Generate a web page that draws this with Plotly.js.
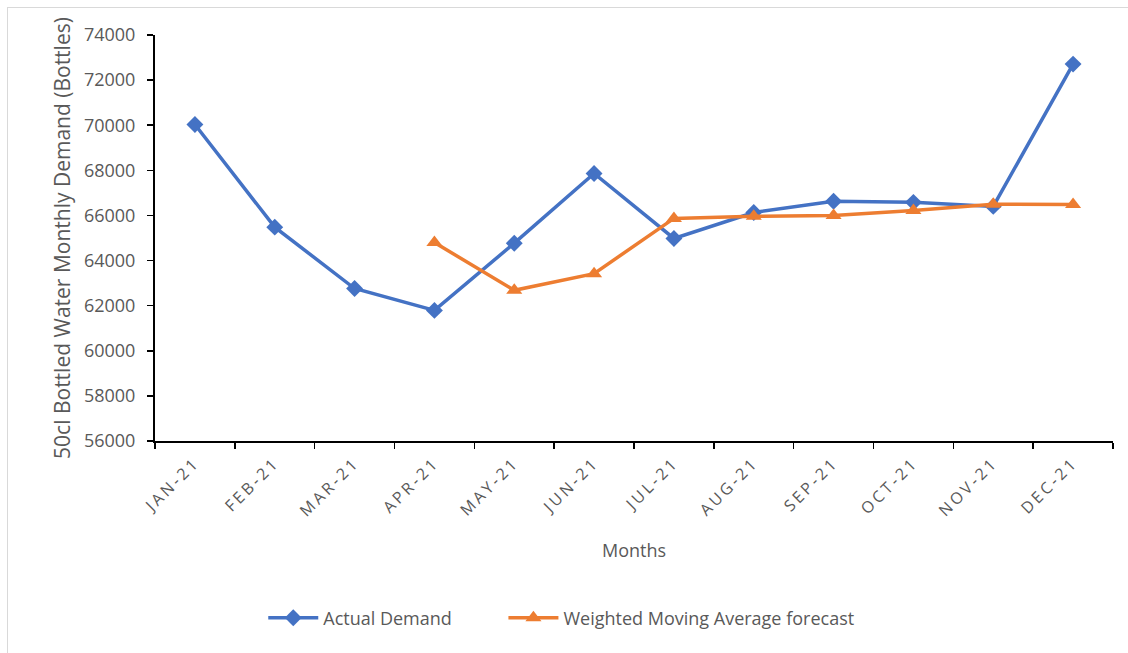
<!DOCTYPE html>
<html>
<head>
<meta charset="utf-8">
<script src="https://cdn.plot.ly/plotly-3.0.1.min.js"></script>
<style>
  body { margin: 0; background: #fff; }
  #frame { position: absolute; left: 7px; top: 7px; width: 1200px; height: 700px; border: 1px solid #d9d9d9; pointer-events: none; z-index: 5; }
  #chart { position: absolute; left: 0; top: 0; width: 1128px; height: 653px; }
  .xtick text { letter-spacing: 3px; }
</style>
</head>
<body>
<div id="chart"></div>
<div id="frame"></div>
<script>
const months = ["JAN-21","FEB-21","MAR-21","APR-21","MAY-21","JUN-21","JUL-21","AUG-21","SEP-21","OCT-21","NOV-21","DEC-21"];
const actualDemand = [70030, 65480, 62760, 61790, 64770, 67860, 64980, 66130, 66630, 66580, 66400, 72710];
const wmaForecast = [null, null, null, 64800, 62680, 63420, 65870, 65960, 66000, 66220, 66500, 66490];
const yTicks = [56000, 58000, 60000, 62000, 64000, 66000, 68000, 70000, 72000, 74000];

const font = "'Open Sans', 'Noto Sans', sans-serif";
const grey = "#595959";

const traces = [
  {
    x: months, y: actualDemand, name: "Actual Demand", type: "scatter", mode: "lines+markers",
    line: { color: "#4472C4", width: 3.5 },
    marker: { symbol: "diamond", size: 13, color: "#4472C4" },
    legend: "legend"
  },
  {
    x: months, y: wmaForecast, name: "Weighted Moving Average forecast", type: "scatter", mode: "lines+markers",
    line: { color: "#ED7D31", width: 3.5 },
    marker: { symbol: "triangle-up", size: 14, color: "#ED7D31" },
    connectgaps: false,
    legend: "legend2"
  }
];

const legendFont = { family: font, size: 18, color: grey };

const layout = {
  width: 1128, height: 653,
  margin: { l: 155, r: 15, t: 35, b: 212 },
  paper_bgcolor: "#fff", plot_bgcolor: "#fff",
  font: { family: font, color: grey },
  showlegend: true,
  legend: {
    orientation: "h", x: 0.113, xanchor: "left", xref: "paper",
    y: -0.436, yanchor: "middle", font: legendFont, itemwidth: 50
  },
  legend2: {
    orientation: "h", x: 0.3637, xanchor: "left", xref: "paper",
    y: -0.436, yanchor: "middle", font: legendFont, itemwidth: 50
  },
  xaxis: {
    type: "category", categoryorder: "array", categoryarray: months,
    range: [-0.5, 11.5],
    showline: true, linecolor: "#000", linewidth: 2,
    ticks: "outside", tickson: "boundaries", ticklen: 6, tickcolor: "#000", tickwidth: 1.5,
    tickangle: -45, tickfont: { family: font, size: 16, color: grey },
    ticklabelstandoff: 4,
    showgrid: false, zeroline: false,
    title: { text: "Months", font: { family: font, size: 18, color: grey }, standoff: 24 }
  },
  yaxis: {
    range: [56000, 74000], tickvals: yTicks, ticktext: yTicks.map(String),
    showline: true, linecolor: "#000", linewidth: 2,
    ticks: "outside", ticklen: 6, tickcolor: "#000", tickwidth: 1.5,
    tickfont: { family: font, size: 18, color: grey },
    ticklabelstandoff: 8,
    showgrid: false, zeroline: false,
    title: { text: "50cl Bottled Water Monthly Demand (Bottles)", font: { family: font, size: 21, color: grey }, standoff: 8 }
  }
};

Plotly.newPlot("chart", traces, layout, { displayModeBar: false, staticPlot: true });
</script>
</body>
</html>
